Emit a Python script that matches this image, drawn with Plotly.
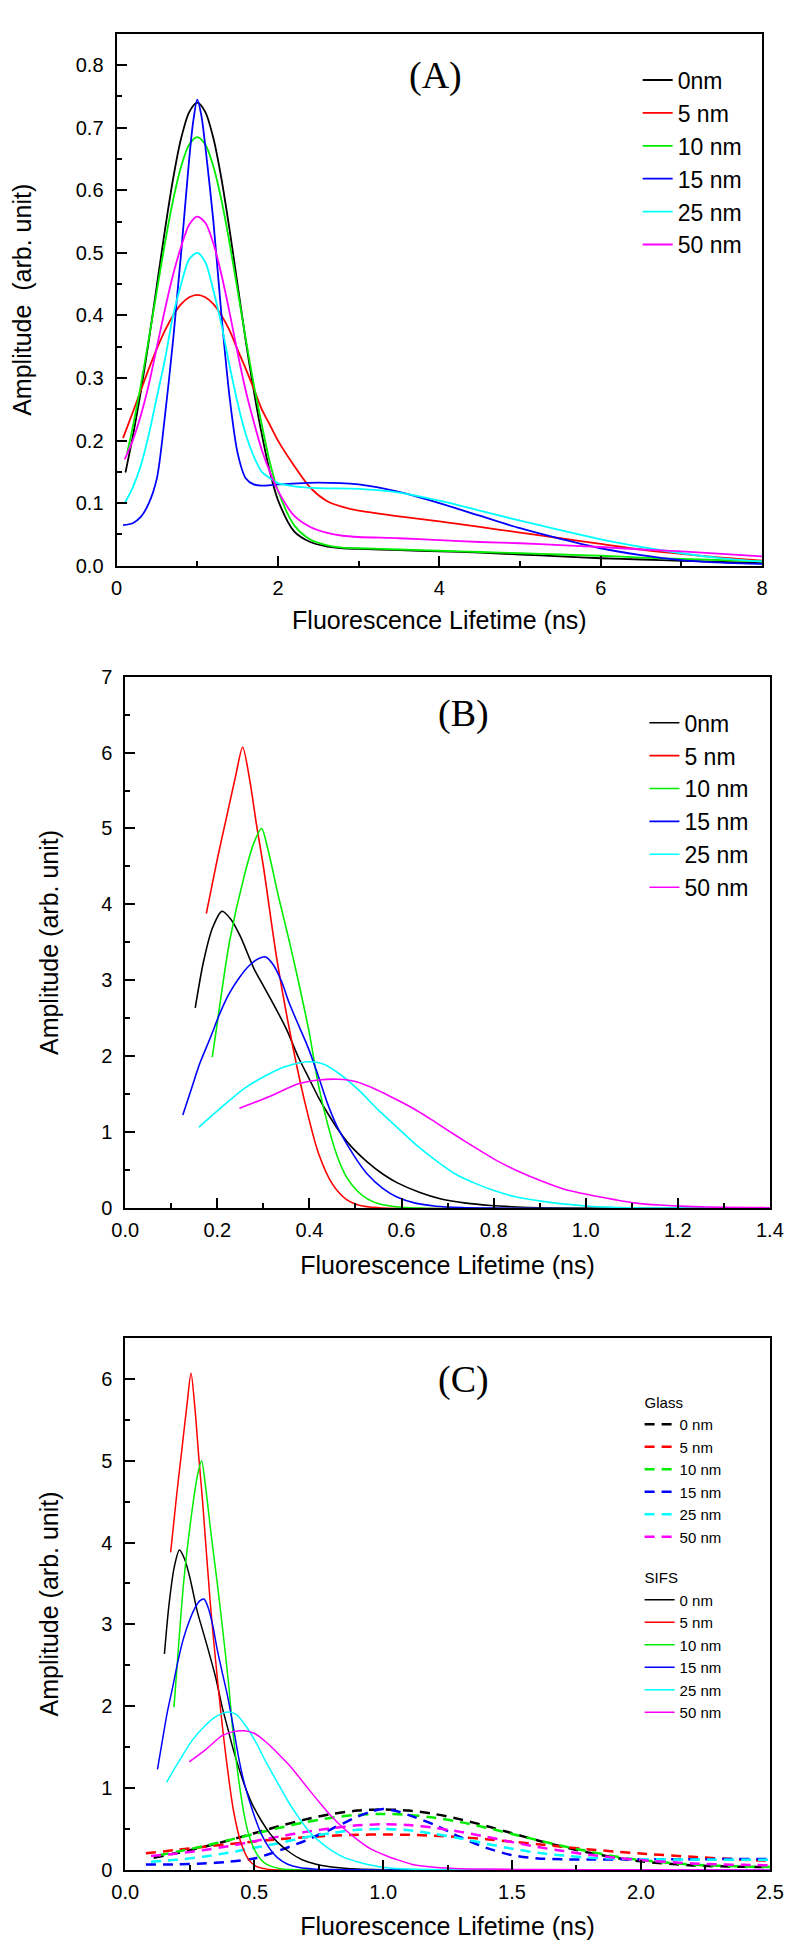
import plotly.graph_objects as go

# ---------------- Panel A data (Glass) ----------------
A_names = ["0nm", "5 nm", "10 nm", "15 nm", "25 nm", "50 nm"]
C_names = ["0 nm", "5 nm", "10 nm", "15 nm", "25 nm", "50 nm"]
colors = ["#000000", "#ff0000", "#00ee00", "#0000ff", "#00ffff", "#ff00ff"]

A0_x = [0.11, 0.2, 0.3, 0.4, 0.5, 0.6, 0.7, 0.8, 0.9, 1.0, 1.1, 1.2, 1.3, 1.4, 1.5, 1.6, 1.7, 1.8, 1.9, 2.0,
        2.2, 2.4, 2.6, 2.8, 3.0, 3.5, 4.0, 4.5, 5.0, 5.5, 6.0, 6.5, 7.0, 7.5, 8.0]
A0_y = [0.149, 0.206, 0.278, 0.36, 0.449, 0.537, 0.618, 0.683, 0.725, 0.74, 0.725, 0.683, 0.618, 0.537, 0.449,
        0.36, 0.28, 0.21, 0.15, 0.105, 0.055, 0.038, 0.031, 0.028, 0.027, 0.025, 0.023, 0.021, 0.018, 0.015,
        0.012, 0.010, 0.008, 0.006, 0.004]

A5_x = [0.08, 0.2, 0.3, 0.4, 0.5, 0.6, 0.7, 0.8, 0.9, 1.0, 1.1, 1.2, 1.3, 1.4, 1.5, 1.6, 1.7, 1.8, 1.9, 2.0,
        2.2, 2.4, 2.6, 2.8, 3.0, 3.5, 4.0, 4.5, 5.0, 5.5, 6.0, 6.5, 7.0, 7.5, 8.0]
A5_y = [0.204, 0.245, 0.28, 0.315, 0.347, 0.376, 0.40, 0.418, 0.429, 0.433, 0.429, 0.418, 0.40, 0.376, 0.345,
        0.315, 0.283, 0.25, 0.225, 0.20, 0.16, 0.125, 0.104, 0.094, 0.088, 0.079, 0.071, 0.062, 0.053, 0.044,
        0.035, 0.026, 0.019, 0.013, 0.008]

A10_x = [0.13, 0.2, 0.3, 0.4, 0.5, 0.6, 0.7, 0.8, 0.9, 1.0, 1.1, 1.2, 1.3, 1.4, 1.5, 1.6, 1.7, 1.8, 1.9, 2.0,
         2.2, 2.4, 2.6, 2.8, 3.0, 3.5, 4.0, 4.5, 5.0, 5.5, 6.0, 6.5, 7.0, 7.5, 8.0]
A10_y = [0.18, 0.221, 0.288, 0.363, 0.44, 0.516, 0.584, 0.638, 0.673, 0.685, 0.673, 0.638, 0.584, 0.516, 0.44,
         0.363, 0.29, 0.225, 0.165, 0.12, 0.065, 0.042, 0.033, 0.029, 0.028, 0.026, 0.024, 0.022, 0.020, 0.018,
         0.016, 0.013, 0.011, 0.009, 0.007]

A15_x = [0.08, 0.2, 0.3, 0.4, 0.5, 0.6, 0.7, 0.75, 0.8, 0.9, 0.95, 1.0, 1.05, 1.1, 1.2, 1.3, 1.4, 1.5, 1.6,
         1.7, 1.8, 2.0, 2.5, 3.0, 3.5, 4.0, 4.5, 5.0, 5.5, 6.0, 6.5, 7.0, 7.5, 8.0]
A15_y = [0.065, 0.068, 0.078, 0.10, 0.14, 0.24, 0.36, 0.43, 0.50, 0.65, 0.71, 0.745, 0.72, 0.67, 0.55, 0.40,
         0.27, 0.18, 0.14, 0.13, 0.128, 0.13, 0.133, 0.13, 0.118, 0.10, 0.08, 0.06, 0.043, 0.028, 0.017, 0.009,
         0.005, 0.003]

A25_x = [0.1, 0.2, 0.3, 0.4, 0.5, 0.6, 0.7, 0.8, 0.9, 1.0, 1.1, 1.2, 1.3, 1.4, 1.5, 1.6, 1.7, 1.8, 1.9, 2.0,
         2.2, 2.5, 3.0, 3.5, 4.0, 4.5, 5.0, 5.5, 6.0, 6.5, 7.0, 7.5, 8.0]
A25_y = [0.10, 0.125, 0.16, 0.21, 0.27, 0.33, 0.40, 0.45, 0.49, 0.50, 0.485, 0.44, 0.385, 0.32, 0.26, 0.21,
         0.175, 0.15, 0.14, 0.132, 0.127, 0.124, 0.123, 0.117, 0.104, 0.088, 0.072, 0.057, 0.042, 0.030, 0.020,
         0.012, 0.007]

A50_x = [0.1, 0.2, 0.3, 0.4, 0.5, 0.6, 0.7, 0.8, 0.9, 1.0, 1.1, 1.2, 1.3, 1.4, 1.5, 1.6, 1.7, 1.8, 1.9, 2.0,
         2.2, 2.4, 2.6, 2.8, 3.0, 3.5, 4.0, 4.5, 5.0, 5.5, 6.0, 6.5, 7.0, 7.5, 8.0]
A50_y = [0.17, 0.20, 0.24, 0.29, 0.35, 0.41, 0.465, 0.51, 0.545, 0.558, 0.548, 0.515, 0.465, 0.405, 0.34, 0.28,
         0.23, 0.185, 0.15, 0.12, 0.08, 0.062, 0.053, 0.048, 0.046, 0.044, 0.041, 0.038, 0.036, 0.033, 0.030,
         0.026, 0.023, 0.019, 0.015]

# ---------------- Panel B data (SIFS) ----------------
B0_x = [0.152, 0.17, 0.19, 0.21, 0.23, 0.25, 0.28, 0.30, 0.32, 0.35, 0.376, 0.40, 0.419, 0.44, 0.462, 0.49,
        0.526, 0.56, 0.59, 0.64, 0.686, 0.74, 0.793, 0.85, 0.9, 1.0, 1.1, 1.2, 1.4, 2.0, 2.5]
B0_y = [2.64, 3.25, 3.70, 3.91, 3.80, 3.58, 3.15, 2.93, 2.71, 2.36, 1.99, 1.70, 1.47, 1.25, 1.04, 0.82,
        0.61, 0.45, 0.34, 0.21, 0.124, 0.07, 0.04, 0.02, 0.01, 0.003, 0.001, 0.0, 0.0, 0.0, 0.0]

B5_x = [0.176, 0.20, 0.22, 0.24, 0.255, 0.27, 0.285, 0.30, 0.33, 0.36, 0.39, 0.42, 0.45, 0.48, 0.51, 0.55,
        0.6, 0.8, 1.0, 1.2, 1.4, 2.0, 2.5]
B5_y = [3.88, 4.60, 5.15, 5.70, 6.07, 5.65, 5.05, 4.50, 3.25, 2.25, 1.40, 0.72, 0.32, 0.12, 0.04, 0.01,
        0.0, 0.0, 0.0, 0.0, 0.0, 0.0, 0.0]

B10_x = [0.189, 0.20, 0.227, 0.259, 0.28, 0.296, 0.31, 0.333, 0.355, 0.376, 0.40, 0.419, 0.44, 0.462, 0.48,
         0.504, 0.525, 0.547, 0.6, 0.65, 0.7, 1.0, 1.4, 2.0, 2.5]
B10_y = [1.99, 2.45, 3.53, 4.39, 4.82, 5.00, 4.72, 4.10, 3.55, 2.99, 2.30, 1.64, 1.10, 0.66, 0.42,
         0.23, 0.13, 0.07, 0.015, 0.003, 0.0, 0.0, 0.0, 0.0, 0.0]

B15_x = [0.125, 0.145, 0.162, 0.185, 0.205, 0.225, 0.248, 0.27, 0.29, 0.305, 0.32, 0.34, 0.355, 0.375, 0.397,
         0.42, 0.44, 0.46, 0.483, 0.505, 0.526, 0.56, 0.59, 0.63, 0.675, 0.73, 0.8, 0.9, 1.0, 1.4, 2.0, 2.5]
B15_y = [1.23, 1.60, 1.91, 2.25, 2.56, 2.82, 3.04, 3.20, 3.29, 3.31, 3.22, 2.98, 2.72, 2.43, 2.12,
         1.73, 1.37, 1.08, 0.83, 0.62, 0.45, 0.26, 0.15, 0.07, 0.03, 0.012, 0.005, 0.001, 0.0, 0.0, 0.0, 0.0]

B25_x = [0.16, 0.205, 0.259, 0.312, 0.35, 0.397, 0.43, 0.472, 0.51, 0.547, 0.59, 0.633, 0.675, 0.718, 0.76,
         0.804, 0.85, 0.9, 0.95, 1.007, 1.1, 1.2, 1.3, 1.4, 2.0, 2.5]
B25_y = [1.07, 1.31, 1.58, 1.77, 1.87, 1.93, 1.90, 1.74, 1.54, 1.31, 1.07, 0.83, 0.63, 0.45, 0.33,
         0.23, 0.15, 0.10, 0.06, 0.03, 0.01, 0.004, 0.001, 0.0, 0.0, 0.0]

B50_x = [0.248, 0.312, 0.376, 0.42, 0.462, 0.50, 0.547, 0.59, 0.633, 0.675, 0.718, 0.76, 0.804, 0.85, 0.9,
         0.95, 1.007, 1.06, 1.11, 1.16, 1.22, 1.3, 1.4, 1.6, 2.0, 2.5]
B50_y = [1.32, 1.47, 1.64, 1.69, 1.70, 1.67, 1.56, 1.43, 1.29, 1.13, 0.96, 0.80, 0.64, 0.50, 0.37,
         0.26, 0.18, 0.12, 0.07, 0.045, 0.027, 0.015, 0.01, 0.004, 0.001, 0.0]

A_series = [(A0_x, A0_y), (A5_x, A5_y), (A10_x, A10_y), (A15_x, A15_y), (A25_x, A25_y), (A50_x, A50_y)]
B_series = [(B0_x, B0_y), (B5_x, B5_y), (B10_x, B10_y), (B15_x, B15_y), (B25_x, B25_y), (B50_x, B50_y)]

SANS = "Liberation Sans, Arial, sans-serif"
SERIF = "Liberation Serif, Times New Roman, serif"

fig = go.Figure()

# Panel A
for (xs, ys), nm, col in zip(A_series, A_names, colors):
    fig.add_trace(go.Scatter(x=xs, y=ys, mode="lines", name=nm, xaxis="x", yaxis="y",
                             line=dict(color=col, width=1.8, shape="spline", smoothing=0.8),
                             legend="legend"))
# Panel B
for (xs, ys), nm, col in zip(B_series, A_names, colors):
    fig.add_trace(go.Scatter(x=xs, y=ys, mode="lines", name=nm, xaxis="x2", yaxis="y2",
                             line=dict(color=col, width=1.6, shape="spline", smoothing=0.8),
                             legend="legend2"))
# Panel C - Glass (dashed)
for (xs, ys), nm, col in zip(A_series, C_names, colors):
    fig.add_trace(go.Scatter(x=xs, y=ys, mode="lines", name=nm, xaxis="x3", yaxis="y3",
                             line=dict(color=col, width=2.5, dash="10px,7px", shape="spline", smoothing=0.8),
                             legend="legend3", legendgroup="glass",
                             legendgrouptitle=dict(text="Glass", font=dict(size=15, family=SANS, color="black"))))
# Panel C - SIFS (solid)
for (xs, ys), nm, col in zip(B_series, C_names, colors):
    fig.add_trace(go.Scatter(x=xs, y=ys, mode="lines", name=nm, xaxis="x3", yaxis="y3",
                             line=dict(color=col, width=1.5, shape="spline", smoothing=0.8),
                             legend="legend3", legendgroup="sifs",
                             legendgrouptitle=dict(text="SIFS", font=dict(size=15, family=SANS, color="black"))))

W, H = 800, 1955


def xd(a, b):
    return [a / W, b / W]


def yd(top, bottom):
    return [1 - bottom / H, 1 - top / H]


def axis_common(**kw):
    d = dict(showgrid=False, zeroline=False, showline=True, linecolor="black", linewidth=2,
             mirror=True, ticks="inside", ticklen=10, tickwidth=1.5, tickcolor="black",
             tickfont=dict(family=SANS, size=20, color="black"),
             title_font=dict(family=SANS, size=25, color="black"),
             automargin=True, ticklabelstandoff=7)
    d.update(kw)
    return d


minor = lambda dt: dict(dtick=dt, ticks="inside", ticklen=5, tickwidth=1.5, tickcolor="black", showgrid=False)

fig.update_layout(
    width=W, height=H,
    margin=dict(l=0, r=0, t=0, b=0),
    paper_bgcolor="white", plot_bgcolor="white",
    font=dict(family=SANS, color="black"),
    xaxis=axis_common(domain=xd(98, 767), range=[0, 8], dtick=2, tick0=0, minor=minor(1),
                      anchor="y", ticklabelstandoff=3,
                      title=dict(text="Fluorescence Lifetime (ns)", standoff=14)),
    yaxis=axis_common(domain=yd(15, 553), range=[0, 0.85], dtick=0.1, tick0=0, tickformat=".1f",
                      minor=minor(0.05), anchor="x",
                      title=dict(text="Amplitude  (arb. unit)", standoff=40)),
    xaxis2=axis_common(domain=xd(107, 775), range=[0, 1.4], dtick=0.2, tick0=0, tickformat=".1f",
                       minor=minor(0.1), anchor="y2", ticklabelstandoff=3,
                       title=dict(text="Fluorescence Lifetime (ns)", standoff=16)),
    yaxis2=axis_common(domain=yd(665, 1203), range=[0, 7], dtick=1, tick0=0, minor=minor(0.5),
                       anchor="x2", title=dict(text="Amplitude (arb. unit)", standoff=35)),
    xaxis3=axis_common(domain=xd(107, 775), range=[0, 2.5], dtick=0.5, tick0=0, tickformat=".1f",
                       minor=minor(0.25), anchor="y3", ticklabelstandoff=3,
                       title=dict(text="Fluorescence Lifetime (ns)", standoff=16)),
    yaxis3=axis_common(domain=yd(1334, 1872), range=[0, 6.5], dtick=1, tick0=0, minor=minor(0.5),
                       anchor="x3", title=dict(text="Amplitude (arb. unit)", standoff=35)),
    legend=dict(x=638 / W, y=1 - 40 / H, xanchor="left", yanchor="top", bgcolor="rgba(0,0,0,0)",
                font=dict(family=SANS, size=23, color="black"), tracegroupgap=0),
    legend2=dict(x=645 / W, y=1 - 690 / H, xanchor="left", yanchor="top", bgcolor="rgba(0,0,0,0)",
                 font=dict(family=SANS, size=23, color="black"), tracegroupgap=0),
    legend3=dict(x=640 / W, y=1 - 1382 / H, xanchor="left", yanchor="top", bgcolor="rgba(0,0,0,0)",
                 font=dict(family=SANS, size=15, color="black"), tracegroupgap=18,
                 traceorder="grouped"),
    showlegend=True,
)

for txt, cx, cy in [("(A)", 429, 57), ("(B)", 458, 702), ("(C)", 458, 1376)]:
    fig.add_annotation(text=txt, xref="paper", yref="paper", x=cx / W, y=1 - cy / H,
                       xanchor="center", yanchor="middle", showarrow=False,
                       font=dict(family=SERIF, size=38, color="black"))

fig.write_html("out.html")
